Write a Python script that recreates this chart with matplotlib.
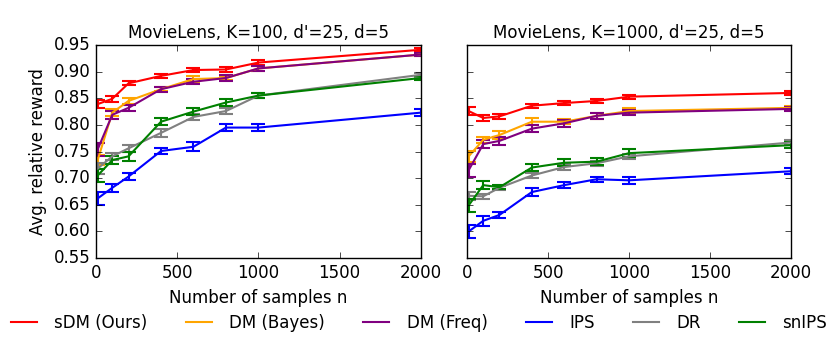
import matplotlib
matplotlib.use("Agg")
import matplotlib.pyplot as plt
import numpy as np

plt.style.use('classic')

n_samples = [10, 100, 200, 400, 600, 800, 1000, 2000]
methods = ["sDM (Ours)", "DM (Bayes)", "DM (Freq)", "IPS", "DR", "snIPS"]
colors = ["red", "orange", "purple", "blue", "gray", "green"]

titles = ["MovieLens, K=100, d'=25, d=5", "MovieLens, K=1000, d'=25, d=5"]

left_means = {
    "sDM (Ours)": [0.839, 0.849, 0.878, 0.892, 0.903, 0.904, 0.917, 0.941],
    "DM (Bayes)": [0.734, 0.823, 0.845, 0.867, 0.886, 0.888, 0.906, 0.932],
    "DM (Freq)":  [0.754, 0.819, 0.832, 0.867, 0.881, 0.888, 0.906, 0.932],
    "IPS":        [0.662, 0.682, 0.703, 0.751, 0.759, 0.795, 0.795, 0.823],
    "DR":         [0.718, 0.741, 0.756, 0.785, 0.815, 0.826, 0.855, 0.894],
    "snIPS":      [0.705, 0.734, 0.741, 0.806, 0.825, 0.842, 0.855, 0.888],
}
left_err = {
    "sDM (Ours)": [0.008, 0.006, 0.004, 0.004, 0.004, 0.004, 0.004, 0.003],
    "DM (Bayes)": [0.010, 0.007, 0.006, 0.004, 0.005, 0.004, 0.004, 0.003],
    "DM (Freq)":  [0.012, 0.007, 0.006, 0.005, 0.005, 0.005, 0.004, 0.003],
    "IPS":        [0.012, 0.008, 0.007, 0.006, 0.008, 0.006, 0.006, 0.006],
    "DR":         [0.010, 0.006, 0.006, 0.007, 0.006, 0.006, 0.004, 0.004],
    "snIPS":      [0.012, 0.008, 0.008, 0.007, 0.006, 0.006, 0.004, 0.004],
}
right_means = {
    "sDM (Ours)": [0.826, 0.813, 0.816, 0.836, 0.841, 0.845, 0.853, 0.860],
    "DM (Bayes)": [0.741, 0.772, 0.781, 0.806, 0.806, 0.817, 0.826, 0.832],
    "DM (Freq)":  [0.715, 0.764, 0.770, 0.793, 0.803, 0.817, 0.823, 0.830],
    "IPS":        [0.600, 0.620, 0.631, 0.674, 0.687, 0.698, 0.696, 0.713],
    "DR":         [0.667, 0.666, 0.682, 0.705, 0.721, 0.728, 0.741, 0.767],
    "snIPS":      [0.649, 0.687, 0.683, 0.720, 0.729, 0.731, 0.747, 0.762],
}
right_err = {
    "sDM (Ours)": [0.007, 0.005, 0.005, 0.004, 0.004, 0.004, 0.004, 0.003],
    "DM (Bayes)": [0.010, 0.006, 0.007, 0.007, 0.005, 0.005, 0.005, 0.004],
    "DM (Freq)":  [0.012, 0.007, 0.007, 0.007, 0.006, 0.006, 0.005, 0.004],
    "IPS":        [0.013, 0.009, 0.006, 0.007, 0.006, 0.005, 0.006, 0.006],
    "DR":         [0.008, 0.005, 0.004, 0.005, 0.005, 0.005, 0.005, 0.004],
    "snIPS":      [0.012, 0.007, 0.004, 0.006, 0.007, 0.006, 0.007, 0.005],
}

fig = plt.figure(figsize=(8.3, 3.46), dpi=100, facecolor='white')
ax1 = fig.add_axes([0.1157, 0.254, 0.3913, 0.616])
ax2 = fig.add_axes([0.5627, 0.254, 0.3903, 0.616], sharey=ax1)

for ax, means, errs, title in [(ax1, left_means, left_err, titles[0]),
                               (ax2, right_means, right_err, titles[1])]:
    for m, c in zip(methods, colors):
        ax.errorbar(n_samples, means[m], yerr=errs[m], color=c, ecolor=c,
                    lw=1.5, elinewidth=1.5, capsize=5, capthick=1.5, label=m)
    ax.set_xlim(0, 2000)
    ax.set_ylim(0.55, 0.95)
    ax.set_xticks([0, 500, 1000, 1500, 2000])
    ax.set_title(title, fontsize=12)
    ax.set_xlabel("Number of samples n", fontsize=12)
    ax.tick_params(labelsize=12)
    ax.set_facecolor('white')

ax1.set_yticks(np.arange(0.55, 0.951, 0.05))
ax1.set_ylabel("Avg. relative reward", fontsize=12)
plt.setp(ax2.get_yticklabels(), visible=False)

line_handles = [plt.Line2D([], [], color=c, lw=1.5) for c in colors]
fig.legend(line_handles, methods, loc='center', bbox_to_anchor=(0.505, 0.067),
           ncol=6, frameon=False, fontsize=12, handlelength=1.55,
           handletextpad=1.05, columnspacing=2.3, numpoints=1)

fig.savefig("out.png", dpi=100, facecolor='white')
